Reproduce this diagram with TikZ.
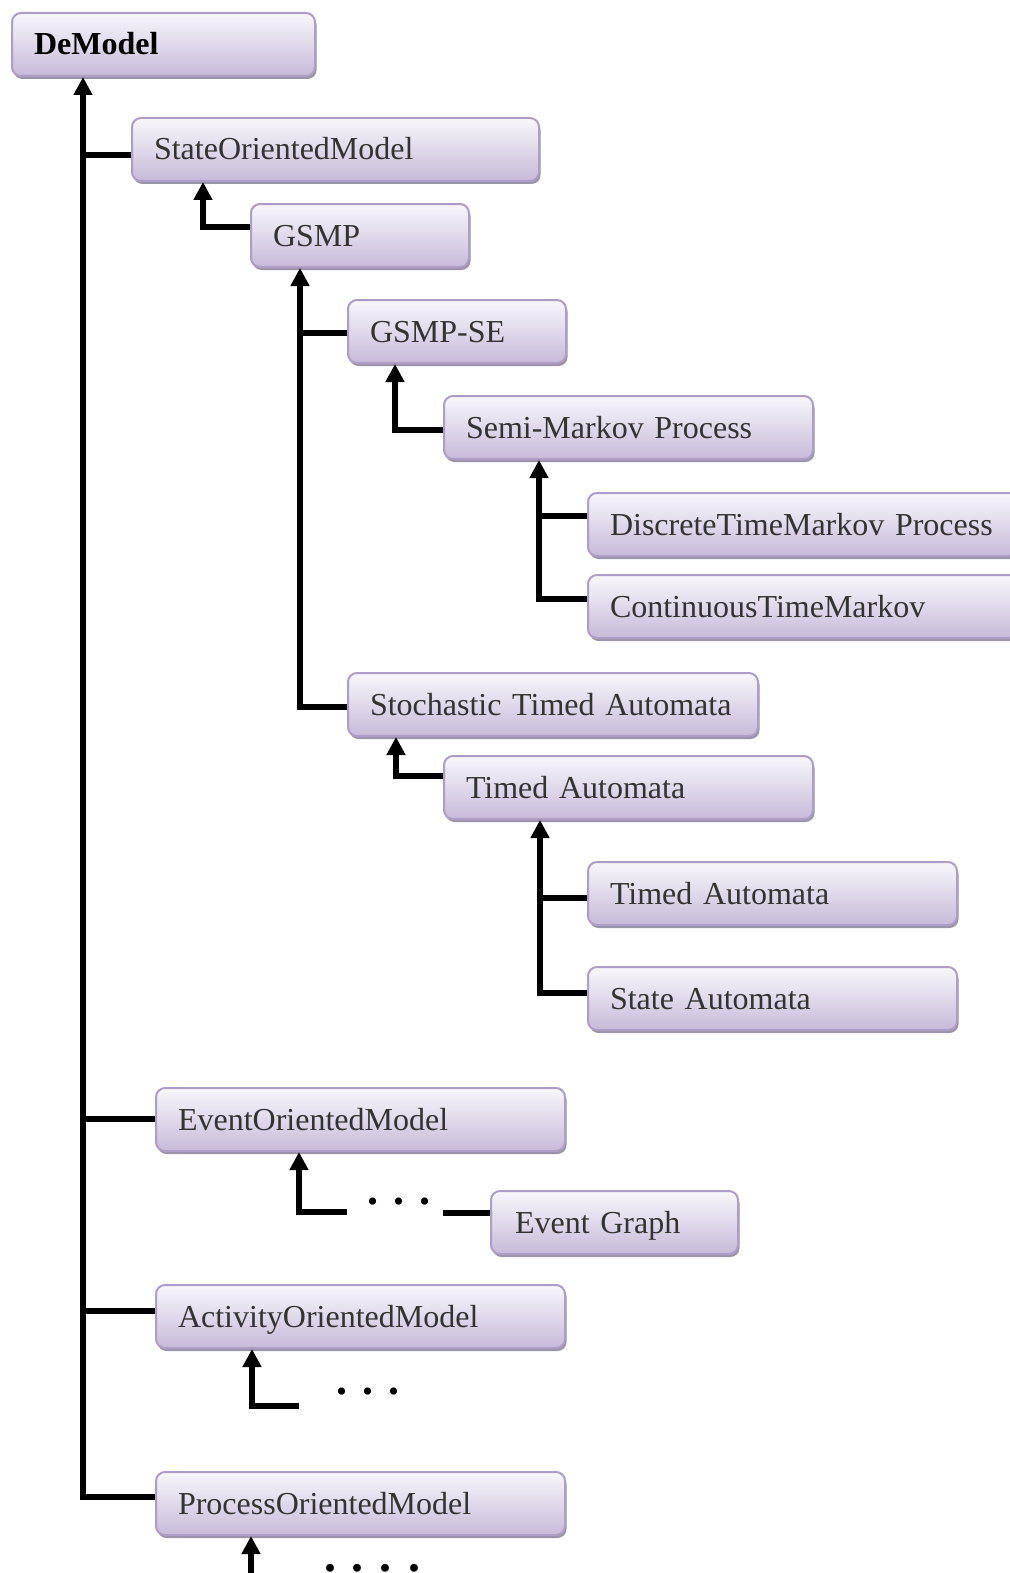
\documentclass[tikz,border=0pt]{standalone}
\usepackage{fontspec}
\setmainfont{Liberation Serif}
\usetikzlibrary{arrows.meta,shadows}
\definecolor{boxtop}{HTML}{F8F7FB}
\definecolor{boxbot}{HTML}{C7BAD9}
\definecolor{boxborder}{HTML}{AD9DC7}
\definecolor{shadowcol}{HTML}{9B93A8}
\definecolor{txtgray}{HTML}{333333}
\begin{document}
\begin{tikzpicture}[x=1pt,y=-1pt,
  box/.style={draw=boxborder, line width=2pt, rounded corners=9pt,
    top color=boxtop, bottom color=boxbot,
    drop shadow={shadow xshift=1.5pt, shadow yshift=-3pt, fill=shadowcol, opacity=1},
    anchor=north west, minimum height=63pt, inner xsep=22pt, inner ysep=0pt,
    text height=21pt, text depth=0pt, align=left, text=txtgray,
    font=\fontsize{32}{38}\selectfont},
  conn/.style={line width=6pt, draw=black},
  arr/.style={conn, -{Triangle[width=18pt,length=18pt]}},
  dots/.style={anchor=base, inner sep=0pt, font=\fontsize{44}{44}\selectfont\bfseries}
]
\useasboundingbox (0,0) rectangle (1009,1573);

% boxes
\node[box, text width=259pt, text=black, font=\fontsize{32}{38}\selectfont\bfseries] (dem) at (11,12) {DeModel};
\node[box, text width=363pt] (som) at (131,117) {StateOrientedModel};
\node[box, text width=174pt] (gsmp) at (250,203) {GSMP};
\node[box, text width=174pt] (gse) at (347,299) {GSMP-SE};
\node[box, text width=325pt] (smp) at (443,395) {Semi-Markov Process};
\node[box, text width=386pt] (dtmp) at (587,492) {DiscreteTimeMarkov Process};
\node[box, text width=386pt] (ctm) at (587,574) {ContinuousTimeMarkov};
\node[box, text width=366pt] (sta) at (347,672) {Stochastic Timed Automata};
\node[box, text width=325pt] (ta) at (443,755) {Timed Automata};
\node[box, text width=325pt] (tab) at (587,861) {Timed Automata};
\node[box, text width=325pt] (sa) at (587,966) {State Automata};
\node[box, text width=365pt] (eom) at (155,1087) {EventOrientedModel};
\node[box, text width=199pt, inner xsep=24pt] (eg) at (490,1190) {Event Graph};
\node[box, text width=365pt] (aom) at (155,1284) {ActivityOrientedModel};
\node[box, text width=365pt] (pom) at (155,1471) {ProcessOrientedModel};

% dots
\node[dots] (d1) at (399,1204) {. . .};
\node[dots] (d2) at (368,1394) {. . .};
\node[dots, font=\fontsize{48}{48}\selectfont\bfseries] (d3) at (372,1571) {. . . .};

% junction coordinates
\coordinate (tb) at (83,1497);
\coordinate (j1) at (83,155);
\coordinate (j2) at (83,1119);
\coordinate (j3) at (83,1311);
\coordinate (c1) at (203,227);
\coordinate (c2) at (300,707);
\coordinate (j4) at (300,333);
\coordinate (c3) at (395,430);
\coordinate (c4) at (539,599);
\coordinate (j5) at (539,516);
\coordinate (c5) at (396,776);
\coordinate (c6) at (540,993);
\coordinate (j6) at (540,898);
\coordinate (c7) at (299,1212);
\coordinate (c7e) at (347,1212);
\coordinate (c8) at (443,1213);
\coordinate (c9) at (252,1406);
\coordinate (c9e) at (299,1406);
\coordinate (c10) at (251,1577);
\coordinate (c10e) at (298,1577);

% connectors
\draw[arr] (pom.west |- tb) -- (tb) -- (tb |- dem.south);
\draw[conn] (j1) -- (j1 -| som.west);
\draw[conn] (j2) -- (j2 -| eom.west);
\draw[conn] (j3) -- (j3 -| aom.west);

\draw[arr] (c1 -| gsmp.west) -- (c1) -- (c1 |- som.south);
\draw[arr] (c2 -| sta.west) -- (c2) -- (c2 |- gsmp.south);
\draw[conn] (j4) -- (j4 -| gse.west);
\draw[arr] (c3 -| smp.west) -- (c3) -- (c3 |- gse.south);
\draw[arr] (c4 -| ctm.west) -- (c4) -- (c4 |- smp.south);
\draw[conn] (j5) -- (j5 -| dtmp.west);
\draw[arr] (c5 -| ta.west) -- (c5) -- (c5 |- sta.south);
\draw[arr] (c6 -| sa.west) -- (c6) -- (c6 |- ta.south);
\draw[conn] (j6) -- (j6 -| tab.west);

\draw[arr] (c7e) -- (c7) -- (c7 |- eom.south);
\draw[conn] (c8) -- (c8 -| eg.west);
\draw[arr] (c9e) -- (c9) -- (c9 |- aom.south);
\draw[arr] (c10e) -- (c10) -- (c10 |- pom.south);
\end{tikzpicture}
\end{document}
